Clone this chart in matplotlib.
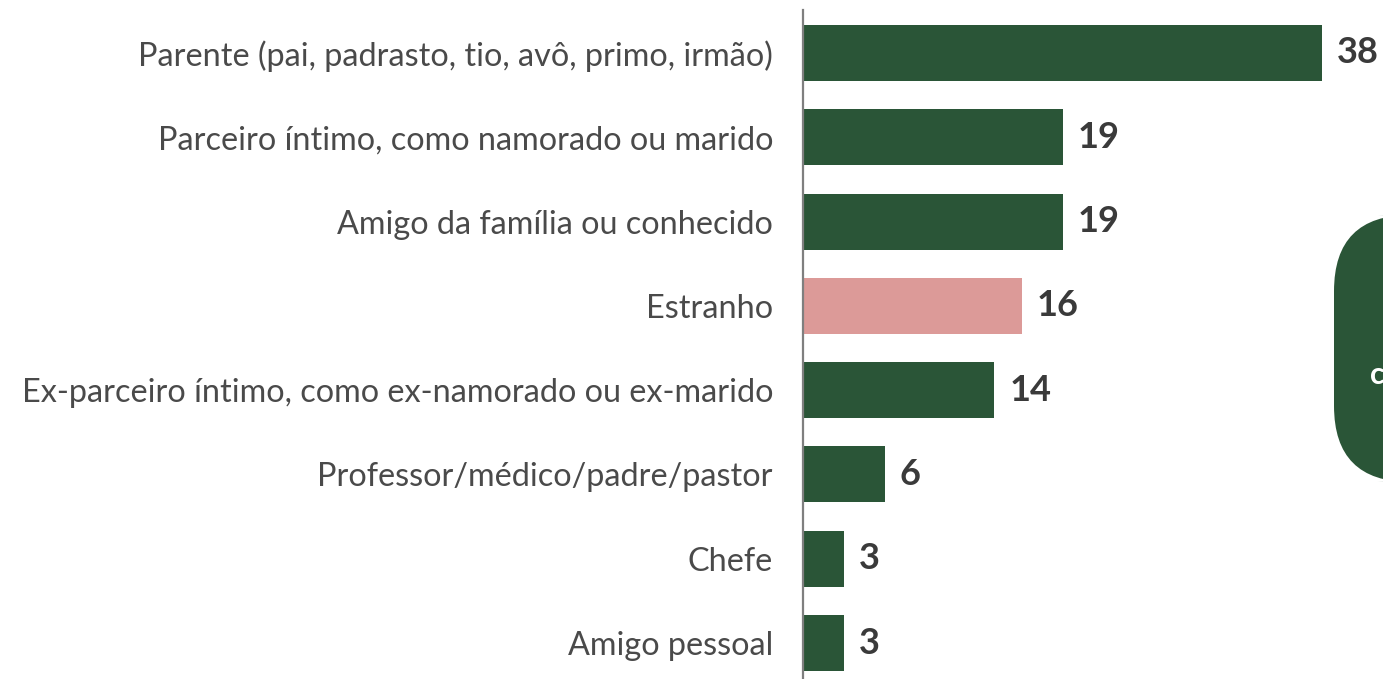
import matplotlib
matplotlib.use("Agg")
import matplotlib.pyplot as plt
from matplotlib.patches import FancyBboxPatch

categories = [
    "Parente (pai, padrasto, tio, avô, primo, irmão)",
    "Parceiro íntimo, como namorado ou marido",
    "Amigo da família ou conhecido",
    "Estranho",
    "Ex-parceiro íntimo, como ex-namorado ou ex-marido",
    "Professor/médico/padre/pastor",
    "Chefe",
    "Amigo pessoal",
]
values = [38, 19, 19, 16, 14, 6, 3, 3]
highlight = "Estranho"

GREEN = "#2a5537"
PINK = "#dc9a98"
TEXT = "#4a4a4a"
VAL = "#3a3a3a"

W, H = 1383, 679
fig = plt.figure(figsize=(W / 100, H / 100), dpi=100)
left_px, right_px = 803, 1383
top_px, bot_px = 10, 679
ax = fig.add_axes([left_px / W, 1 - bot_px / H, (right_px - left_px) / W, (bot_px - top_px) / H])

pos = list(range(len(categories)))
colors = [PINK if c == highlight else GREEN for c in categories]
ax.barh(pos, values, height=0.665, color=colors)

ax.set_xlim(0, (right_px - left_px) / 13.66)
ax.set_ylim(7.427, -0.51)
for s in ["top", "right", "bottom"]:
    ax.spines[s].set_visible(False)
ax.spines["left"].set_color("#7f7f7f")
ax.spines["left"].set_linewidth(1.6)
ax.set_xticks([])
ax.set_yticks(pos)
ax.set_yticklabels(categories, fontsize=23.3, color=TEXT, family="Lato")
ax.tick_params(axis="y", length=0, pad=21.6)

for p, v in zip(pos, values):
    ax.annotate(str(v), (v, p), xytext=(15, 0), textcoords="offset pixels",
                ha="left", va="center", fontsize=26, fontweight="bold",
                color=VAL, family="Lato")

# partially visible callout box at right edge
box = FancyBboxPatch((1334 / W, 1 - 482 / H), 120 / W, 267 / H,
                     boxstyle="round,pad=0,rounding_size=0.055",
                     transform=fig.transFigure, facecolor=GREEN, edgecolor="none",
                     mutation_aspect=W / H)
fig.patches.append(box)
fig.text(1370 / W, 1 - 375 / H, "c", color="white", fontsize=22, fontweight="bold",
         family="Lato", ha="left", va="center")

fig.savefig("out.png", dpi=100, facecolor="white")
